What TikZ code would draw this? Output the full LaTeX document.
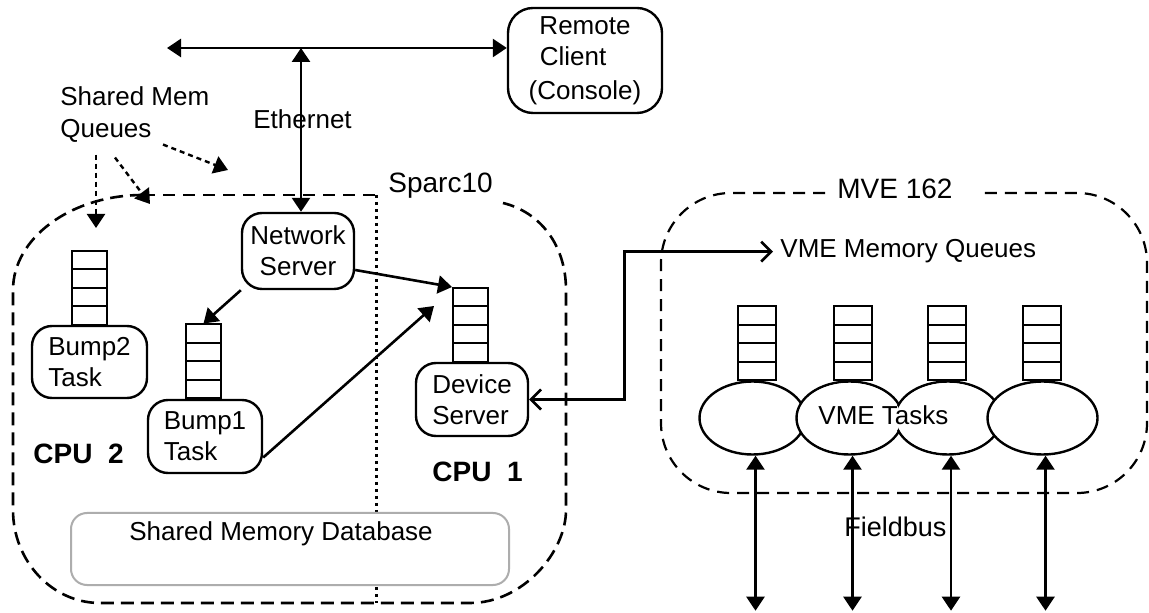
\documentclass[tikz,border=0pt]{standalone}
\usepackage{fontspec}
\setmainfont{Liberation Sans}
\usetikzlibrary{arrows.meta,shapes.geometric,calc}

\tikzset{
  tri/.tip={Triangle[length=7pt,width=9pt]},
  barb/.tip={Straight Barb[length=5pt,width=10pt,line width=1.3pt]},
  box/.style={draw, line width=1.2pt, rounded corners=10pt, fill=white, inner sep=0pt, align=center},
  lbox/.style={box, align=left},
  txt/.style={inner sep=0pt},
  conn/.style={line width=1.3pt},
  dotarrow/.style={line width=1.2pt, dash pattern=on 2.5pt off 2pt, -tri},
  ell/.style={ellipse, draw, line width=1.2pt, fill=white, minimum width=53pt, minimum height=36.5pt, inner sep=0pt},
  sparcline/.style={line width=1.3pt, dash pattern=on 6.5pt off 3.5pt},
  thinline/.style={line width=0.7pt, dash pattern=on 6pt off 4pt},
  mveline/.style={line width=1.1pt, dash pattern=on 6pt off 4pt},
  divider/.style={line width=1.5pt, dash pattern=on 1.5pt off 2pt},
  qstack/.style={draw, line width=1pt, fill=white, minimum width=17.5pt, minimum height=37pt, inner sep=0pt,
    path picture={
      \foreach \k in {1,2,3}{
        \draw[line width=1pt] ($(path picture bounding box.north west)!\k/4!(path picture bounding box.south west)$) -- ++(60,0);
      }}},
}

\begin{document}
\begin{tikzpicture}[x=0.5pt,y=-0.5pt,font=\fontsize{13}{15.5}\selectfont]
\useasboundingbox[fill=white] (0,0) rectangle (1149,613);

% Sparc10 enclosure
\draw[sparcline] (143,195) .. controls (71,195) and (13,238) .. (13,290) -- (13,510)
  .. controls (13,561) and (52,603) .. (100,603) -- (470,603)
  .. controls (523,603) and (566,552) .. (566,510) -- (566,290)
  .. controls (566,245) and (540,212) .. (503,203);
\draw[thinline] (143,195) -- (376,195);
\draw[divider] (376,195) -- (376,603);
\node[txt, font=\fontsize{14}{16}\selectfont, anchor=base west] (sparc) at (388,193) {Sparc10};

% MVE 162 enclosure
\draw[mveline, rounded corners=35pt] (825,193) -- (661,193) -- (661,493) -- (1147,493) -- (1147,193) -- (983,193);
\node[txt, font=\fontsize{14}{16}\selectfont, anchor=base west] (mve) at (837,199) {MVE 162};

% Remote client and Ethernet
\node[box, minimum width=77pt, minimum height=52.5pt, rounded corners=12.5pt] (remote) at (585,60.5) {Remote\\\mbox{Client\hspace{12pt}}\\[1.5pt](Console)};
\coordinate (ethL) at (167,48);
\coordinate (ethT) at (301,48);
\node[txt, anchor=base west] (eth) at (253,129) {Ethernet};

% Sparc10 tasks
\node[box, minimum width=56pt, minimum height=38pt] (net) at (298,251) {Network\\Server};
\node[qstack] (qb2) at (89.5,288) {};
\node[lbox, minimum width=57.5pt, minimum height=36pt] (bump2) at (89.5,362) {Bump2\\Task};
\node[qstack] (qb1) at (203.5,361.5) {};
\node[lbox, minimum width=57pt, minimum height=36.5pt] (bump1) at (205,436.5) {Bump1\\Task};
\node[qstack] (qdev) at (470.5,325) {};
\node[lbox, minimum width=56pt, minimum height=36.5pt] (dev) at (472,399.5) {Device\\Server};

\node[txt, font=\fontsize{14}{16}\selectfont\bfseries, anchor=base west] (cpu2) at (33,464) {CPU~~2};
\node[txt, font=\fontsize{14}{16}\selectfont\bfseries, anchor=base west] (cpu1) at (432,482) {CPU~~1};

\node[draw=black!32, fill=white, line width=1pt, rounded corners=8pt, minimum width=219pt,
      inner xsep=0pt, inner ysep=0pt, text height=13.5pt, text depth=22.5pt] (smdb) at (290,549) {\mbox{Shared Memory Database\hspace{9pt}}};

% Shared memory queue pointers
\node[txt, anchor=north west, align=left, font=\fontsize{13}{16}\selectfont] (smq) at (60,86) {Shared Mem\\Queues};
\coordinate (s1) at (96,228);
\coordinate (s2) at (150,204);
\coordinate (s3) at (228,170);
\draw[dotarrow] ($(smq.south west)+(36,12)$) -- (s1);
\draw[dotarrow] ($(smq.south west)+(55,15)$) -- (s2);
\draw[dotarrow] ($(smq.south west)+(103,2)$) -- (s3);

% VME side
\node[txt, font=\fontsize{13}{15}\selectfont, anchor=base west, inner xsep=3.5pt] (vmq) at (773,258) {VME Memory Queues};
\node[qstack, minimum width=19pt] (qv1) at (757,343.5) {};
\node[qstack, minimum width=19pt] (qv2) at (852.5,343.5) {};
\node[qstack, minimum width=19pt] (qv3) at (947,343.5) {};
\node[qstack, minimum width=19pt] (qv4) at (1042,343.5) {};

\node[ell] (e1) at (752.5,418) {};
\node[ell] (e2) at (849.5,418) {};
\node[ell] (e3) at (948,418) {};
\fill[white] (e2.center) ellipse [x radius=51, y radius=35];
\fill[white] (e3.center) ellipse [x radius=51, y radius=35];
\node[ell, minimum width=55pt] (e4) at (1042.5,418) {};
\node[txt, anchor=base west] (vtasks) at (818,425) {VME Tasks};

\node[txt, font=\fontsize{13.5}{16}\selectfont, anchor=base west] (fbus) at (844,537) {Fieldbus};
\foreach \i in {1,2,3,4}{
  \path (e\i.south) ++(3,155) coordinate (fb\i);
  \draw[conn, tri-tri] ($(e\i.south)+(3,0)$) -- (fb\i);
}

% connectors
\draw[conn, tri-tri] (ethL) -- (remote.west |- ethL);
\draw[conn, tri-tri] (ethT) -- (ethT |- net.north);
\draw[conn, -tri] ($(net.east)+(0,19)$) -- (qdev.north west);
\draw[conn, -tri] (net.south west) -- (qb1.north);
\draw[conn, -tri] ($(bump1.east)+(0,21)$) -- ($(qdev.north west)+(-18,19)$);
\draw[conn, barb-barb] (dev.east) -- ++(95,0) |- (vmq.west);
\end{tikzpicture}
\end{document}
